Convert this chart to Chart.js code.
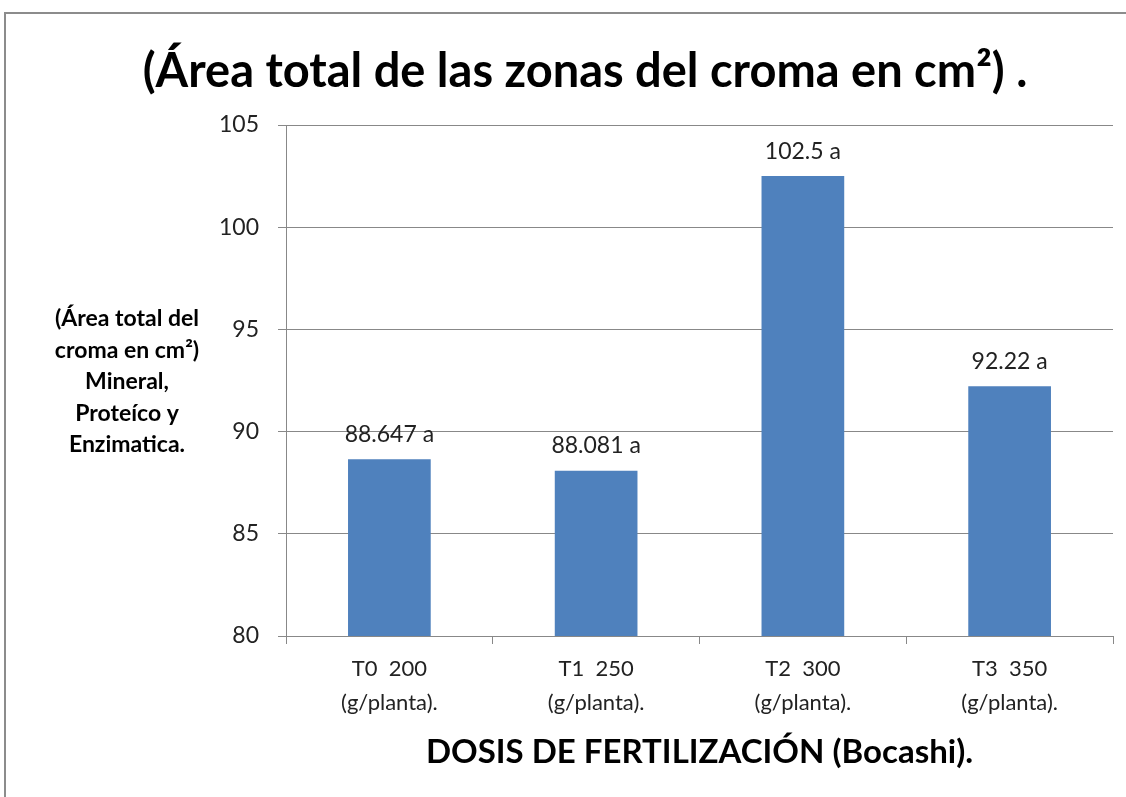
<!DOCTYPE html>
<html>
<head>
<meta charset="utf-8">
<script src="https://cdn.jsdelivr.net/npm/chart.js@4"></script>
<style>
  body { margin: 0; background: #fff; }
  #wrap { position: relative; width: 1126px; height: 797px; }
  #frame { position: absolute; left: 4px; top: 12px; width: 1200px; height: 900px;
           border-left: 2px solid #8c8c8c; border-top: 2px solid #8c8c8c; }
  canvas { position: absolute; left: 0; top: 0; }
</style>
</head>
<body>
<div id="wrap">
  <div id="frame"></div>
  <canvas id="chart" width="1126" height="797"></canvas>
</div>
<script>
// chart data
const categories = [
  ['T0  200', '(g/planta).'],
  ['T1  250', '(g/planta).'],
  ['T2  300', '(g/planta).'],
  ['T3  350', '(g/planta).']
];
const values = [88.647, 88.081, 102.5, 92.22];
const valueLabels = ['88.647 a', '88.081 a', '102.5 a', '92.22 a'];

const titleText = '(Área total de las zonas del croma en cm²) .';
const yTitleLines = ['(Área total del', 'croma en cm²)', 'Mineral,', 'Proteíco y', 'Enzimatica.'];
const xTitleText = 'DOSIS DE FERTILIZACIÓN (Bocashi).';

const FONT = 'Lato, "Open Sans", sans-serif';

// draws title, axis titles and value labels
const textPlugin = {
  id: 'extraText',
  afterDatasetsDraw(chart) {
    const ctx = chart.ctx;
    const area = chart.chartArea;
    ctx.save();
    ctx.fillStyle = '#000';
    ctx.textAlign = 'center';
    ctx.textBaseline = 'middle';

    ctx.font = 'bold 47px ' + FONT;
    ctx.fillText(titleText, 585, 72);

    ctx.font = 'bold 23px ' + FONT;
    yTitleLines.forEach((line, i) => {
      ctx.fillText(line, 127, 319 + i * 31.5);
    });

    ctx.font = 'bold 33px ' + FONT;
    ctx.fillText(xTitleText, (area.left + area.right) / 2, 752);

    // value labels above bars
    ctx.font = '23px ' + FONT;
    ctx.fillStyle = '#222';
    const meta = chart.getDatasetMeta(0);
    meta.data.forEach((bar, i) => {
      ctx.fillText(valueLabels[i], bar.x, bar.y - 25);
    });
    ctx.restore();
  }
};

const ctx = document.getElementById('chart').getContext('2d');
const chart = new Chart(ctx, {
  type: 'bar',
  data: {
    labels: categories,
    datasets: [{
      data: values,
      backgroundColor: '#4F81BD',
      categoryPercentage: 1,
      barPercentage: 0.4
    }]
  },
  options: {
    responsive: false,
    animation: false,
    layout: { padding: { top: 125, right: 13, bottom: 0, left: 0 } },
    plugins: {
      legend: { display: false },
      tooltip: { enabled: false }
    },
    scales: {
      x: {
        afterFit(scale) { scale.height = 797 - 636; },
        grid: { drawOnChartArea: false, color: '#888', tickLength: 8 },
        border: { color: '#888' },
        ticks: {
          color: '#222',
          padding: 8,
          font: { family: FONT, size: 22, lineHeight: 1.55 }
        }
      },
      y: {
        min: 80,
        max: 105,
        afterFit(scale) { scale.width = 286; },
        grid: { color: '#888', tickLength: 8 },
        border: { color: '#888' },
        ticks: {
          stepSize: 5,
          color: '#222',
          padding: 19,
          font: { family: FONT, size: 23 }
        }
      }
    }
  },
  plugins: [textPlugin]
});
</script>
</body>
</html>
